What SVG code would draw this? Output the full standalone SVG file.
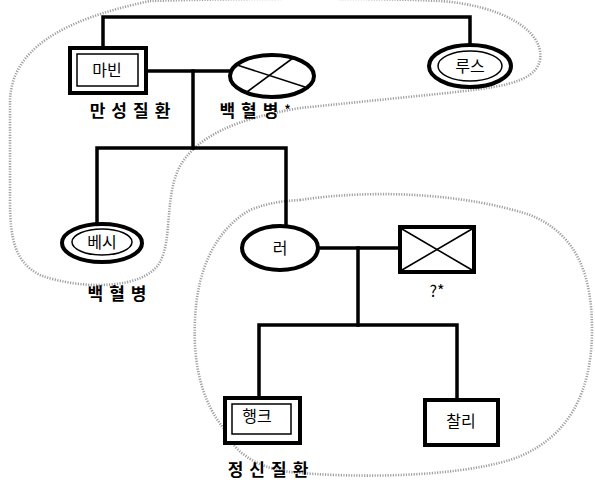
<svg xmlns="http://www.w3.org/2000/svg" width="595" height="482" viewBox="0 0 595 482">
<style>
.bg{fill:#fff}
.lasso{fill:none;stroke:#a0a0a0;stroke-width:2.6;stroke-dasharray:1.2 1.4;stroke-linejoin:round}
.ln{fill:none;stroke:#000;stroke-width:3.5;stroke-linecap:square}
.sh{fill:#fff;stroke:#000;stroke-width:4}
.in{fill:none;stroke:#000;stroke-width:1.5}
.x{stroke:#000;stroke-width:1.6}
.nm{font-family:"Noto Sans CJK KR","Noto Sans",sans-serif;font-size:16px;fill:#000;text-anchor:middle}
.lb{font-family:"Noto Sans CJK KR","Noto Sans",sans-serif;font-size:17px;font-weight:bold;fill:#000;text-anchor:middle;letter-spacing:6px}
</style>
<rect class="bg" x="0" y="0" width="595" height="482"/>
<g id="groups">
<path class="lasso" d="M 150,1 C 250,-2 380,-2 440,1 C 500,5 545,30 540,60 C 535,85 490,88 447,93 L 300,108 C 240,118 195,135 178,170 C 165,200 172,240 160,262 C 145,290 80,290 40,275 C 15,262 10,240 10,200 L 10,100 C 12,50 60,20 150,1 Z"/>
<path class="lasso" d="M 300,200 C 380,188 470,195 530,215 C 580,235 592,280 592,330 C 592,390 570,440 510,460 C 450,478 350,478 290,472 C 260,468 235,455 225,430 C 200,400 193,360 195,320 C 197,270 215,230 250,210 C 270,202 285,201 300,200 Z"/>
</g>
<g id="connectors">
<path class="ln" d="M 103,46 V 17 H 470 V 44"/>
<path class="ln" d="M 146,71 H 230"/>
<path class="ln" d="M 193,71 V 148"/>
<path class="ln" d="M 97,224 V 148 H 286 V 226"/>
<path class="ln" d="M 318,248 H 399"/>
<path class="ln" d="M 358,248 V 325"/>
<path class="ln" d="M 259,398 V 325 H 457 V 400"/>
</g>
<g id="marvin">
<rect class="sh" x="70" y="48" width="76" height="45"/>
<rect class="in" x="77" y="54" width="61" height="32"/>
<text class="nm" x="107" y="76">마빈</text>
<text class="lb" x="133" y="117">만성질환</text>
</g>
<g id="spouse1">
<ellipse class="sh" cx="272" cy="76" rx="42" ry="21"/>
<line class="x" x1="237" y1="65" x2="305" y2="87"/>
<line class="x" x1="293" y1="58" x2="247" y2="92"/>
<text class="lb" x="258" y="117">백혈병<tspan font-size="12" dy="-3">*</tspan></text>
</g>
<g id="ruth">
<ellipse class="sh" cx="470" cy="66" rx="41" ry="21"/>
<ellipse class="in" cx="470" cy="66" rx="32" ry="15"/>
<text class="nm" x="470" y="72">루스</text>
</g>
<g id="bessie">
<ellipse class="sh" cx="102" cy="243" rx="40" ry="19"/>
<ellipse class="in" cx="102" cy="242" rx="30" ry="13"/>
<text class="nm" x="102" y="248">베시</text>
<text class="lb" x="120" y="300">백혈병</text>
</g>
<g id="lee">
<ellipse class="sh" cx="280" cy="248" rx="38" ry="22"/>
<text class="nm" x="280" y="254">러</text>
</g>
<g id="spouse2">
<rect class="sh" x="400" y="227" width="74" height="45"/>
<line class="x" x1="402" y1="229" x2="472" y2="270"/>
<line class="x" x1="472" y1="229" x2="402" y2="270"/>
<text class="nm" x="437" y="297">?*</text>
</g>
<g id="hank">
<rect class="sh" x="225" y="398" width="75" height="45"/>
<rect class="in" x="232" y="404" width="59" height="30"/>
<text class="nm" x="257" y="422">행크</text>
<text class="lb" x="271" y="476" font-size="16">정신질환</text>
</g>
<g id="charlie">
<rect class="sh" x="425" y="400" width="73" height="45"/>
<text class="nm" x="461" y="427">찰리</text>
</g>
</svg>
